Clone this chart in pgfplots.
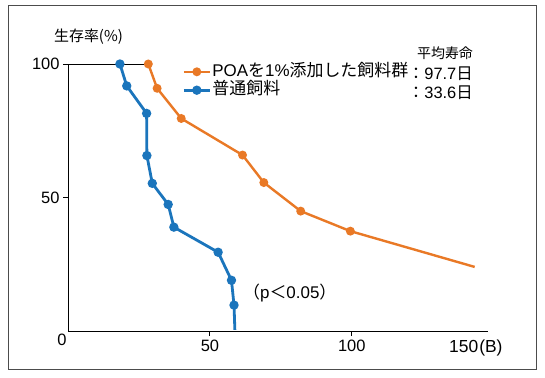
\documentclass[border=0pt]{standalone}
\usepackage{fontspec}
\setmainfont{Liberation Sans}
\newfontfamily\jp{Noto Sans CJK JP}
\usepackage{pgfplots}
\pgfplotsset{compat=1.18}
\definecolor{orng}{RGB}{233,121,38}
\definecolor{blu}{RGB}{27,117,188}
\begin{document}
\begin{tikzpicture}[x=1bp,y=1bp]
\useasboundingbox (0,0) rectangle (545,377);
\fill[white] (0,0) rectangle (545,377);
\draw[black!70, line width=0.9bp] (8,8) rectangle (536,372);
\begin{axis}[
  at={(68bp,46bp)}, anchor=south west, scale only axis,
  width=420bp, height=267bp,
  xmin=0, xmax=148, ymin=0, ymax=100,
  axis x line=bottom, axis y line=left,
  axis line style={-, line width=0.9bp, black},
  xtick={50,100}, ytick={50,100},
  tick align=outside, major tick length=5bp,
  tick style={black, line width=0.9bp},
  /pgf/number format/assume math mode=true,
  tick label style={font=\fontsize{16.5}{19}\selectfont},
  clip=false,
  legend style={at={(axis description cs:0.272,1.006)}, anchor=north west,
    draw=none, fill=none, inner sep=0pt,
    font=\fontsize{17}{20}\selectfont,
    nodes={inner sep=1.2bp, text height=12.5bp, text depth=3.5bp},
    cells={anchor=west}},
  legend image code/.code={%
    \draw[#1, mark=none] (0bp,0bp) -- (26bp,0bp);
    \draw[#1, only marks] plot coordinates {(13bp,0bp)};},
]
\addplot[black, line width=0.9bp, forget plot] coordinates {(0,100) (28.3,100)};
\addplot[orng, line width=2.4bp, mark=*, mark size=3.2bp, mark options={solid, fill=orng},
  mark indices={1,2,3,4,5,6,7}] coordinates {
  (28.3,100) (31.4,90.9) (39.9,79.6) (61.5,65.9) (69.0,55.6) (82.0,44.9) (99.5,37.4) (143.3,24.0)};
\addlegendentry{POA{\jp を}1\%{\jp 添加した飼料群}}
\addplot[blu, line width=2.8bp, mark=*, mark size=3.2bp, mark options={solid, fill=blu},
  mark indices={1,2,3,4,5,6,7,8,9,10}] coordinates {
  (18.3,100) (20.7,91.8) (27.7,81.5) (27.8,65.7) (29.7,55.3) (35.3,47.4) (37.3,38.9) (52.9,29.5) (57.6,19.0) (58.5,9.7) (58.8,0.4)};
\addlegendentry{{\jp 普通飼料}}
\end{axis}
\node[font=\jp\fontsize{15}{18}\selectfont] at (88.5,340) {生存率(\%)};
\node[font=\fontsize{16.5}{19}\selectfont] at (62,37) {0};
\node[font=\fontsize{17.5}{20}\selectfont, anchor=base west, inner sep=0pt] at (449,25) {150\kern1bp(B)};
\node[font=\fontsize{17}{20}\selectfont, anchor=base west, inner sep=0pt] at (243,79) {{\jp （}p{\jp ＜}0.05{\jp ）}};
\node[font=\jp\fontsize{14}{17}\selectfont] at (445,324) {平均寿命};
\node[font=\fontsize{16.5}{19}\selectfont, anchor=base east, inner sep=0pt] at (473,298) {{\jp ：}97.7{\jp 日}};
\node[font=\fontsize{16.5}{19}\selectfont, anchor=base east, inner sep=0pt] at (473,279) {{\jp ：}33.6{\jp 日}};
\end{tikzpicture}
\end{document}
